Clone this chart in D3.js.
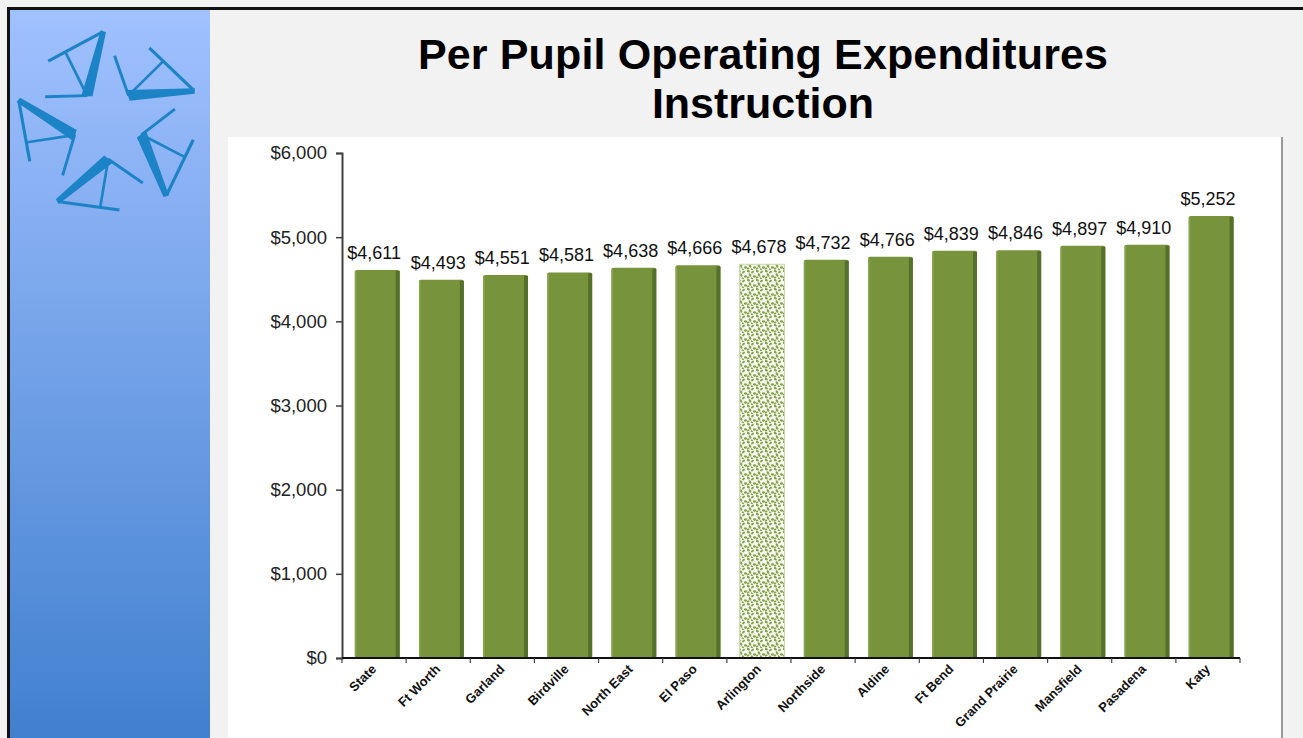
<!DOCTYPE html>
<html>
<head>
<meta charset="utf-8">
<script src="https://cdn.jsdelivr.net/npm/d3@7"></script>
<style>
html,body{margin:0;padding:0;background:#f2f2f2;}
svg{display:block;}
text{font-family:"Liberation Sans",Arial,sans-serif;}
</style>
</head>
<body>
<script>
// ---- data ----
const categories = ["State","Ft Worth","Garland","Birdville","North East","El Paso","Arlington","Northside","Aldine","Ft Bend","Grand Prairie","Mansfield","Pasadena","Katy"];
const values = [4611,4493,4551,4581,4638,4666,4678,4732,4766,4839,4846,4897,4910,5252];
const highlighted = ["Arlington"];
const yTickValues = [0,1000,2000,3000,4000,5000,6000];
const titleLines = ["Per Pupil Operating Expenditures","Instruction"];

const W = 1303, H = 738;
const svg = d3.select("body").append("svg").attr("width", W).attr("height", H);
const defs = svg.append("defs");

// sidebar gradient
const grad = defs.append("linearGradient").attr("id","side").attr("x1",0).attr("y1",0).attr("x2",0).attr("y2",1);
grad.append("stop").attr("offset","0%").attr("stop-color","#a1c1ff");
grad.append("stop").attr("offset","100%").attr("stop-color","#4180cf");

// dotted pattern for highlighted bar
const pat = defs.append("pattern").attr("id","dots").attr("patternUnits","userSpaceOnUse").attr("width",9).attr("height",9);
pat.append("rect").attr("width",9).attr("height",9).attr("fill","#f6f9f0");
[[1,1,2.0,1.2,30],[5.5,2,1.7,1.1,-40],[3,5,1.9,1.2,60],[7.5,6.5,1.6,1.2,10],[1,7.5,1.5,1.0,-20],[5,8.6,1.4,0.9,45]].forEach(d=>{
  pat.append("ellipse").attr("cx",d[0]).attr("cy",d[1]).attr("rx",d[2]).attr("ry",d[3])
    .attr("transform",`rotate(${d[4]},${d[0]},${d[1]})`).attr("fill","#86a24a");
});

// background
svg.append("rect").attr("width",W).attr("height",H).attr("fill","#f2f2f2");
svg.append("rect").attr("x",9).attr("y",9).attr("width",201).attr("height",H-9).attr("fill","url(#side)");
// black border
svg.append("rect").attr("x",7).attr("y",7).attr("width",W-7).attr("height",3).attr("fill","#111");
svg.append("rect").attr("x",7).attr("y",7).attr("width",3).attr("height",H-7).attr("fill","#111");

// logo: five stylized A's rotated around a centre
const logo = svg.append("g").attr("transform","translate(108,124) scale(1.03)");
for (let k=0;k<5;k++){
  const g = logo.append("g").attr("transform",`rotate(${k*72})`);
  const c = "#1b83c6";
  g.append("path").attr("d","M-7,-91 L-2,-89 L-15,-27 L-26,-27 Z").attr("fill",c);
  g.append("line").attr("x1",-58).attr("y1",-61).attr("x2",-6).attr("y2",-89).attr("stroke",c).attr("stroke-width",3);
  g.append("line").attr("x1",-41).attr("y1",-69).attr("x2",-22).attr("y2",-31).attr("stroke",c).attr("stroke-width",2.6);
  g.append("line").attr("x1",-61).attr("y1",-26.5).attr("x2",-20).attr("y2",-27.5).attr("stroke",c).attr("stroke-width",2.8);
}

// white chart panel
svg.append("rect").attr("x",228).attr("y",137).attr("width",1053).attr("height",H-137).attr("fill","#ffffff");
svg.append("rect").attr("x",1281).attr("y",137).attr("width",2).attr("height",H-137).attr("fill","#9a9a9a");

// title
svg.append("g").selectAll("text").data(titleLines).join("text")
  .attr("x",763).attr("y",(d,i)=>69+i*49)
  .attr("text-anchor","middle").attr("font-size",43).attr("font-weight","bold").attr("fill","#000")
  .attr("textLength",(d,i)=> i===0 ? 690 : null)
  .text(d=>d);

// scales
const x0 = 342, x1 = 1240, yBase = 658, yTop = 153;
const slot = d3.scaleBand().domain(categories).range([x0,x1]).padding(0);
const y = d3.scaleLinear().domain([0,6000]).range([yBase,yTop]);
const fmt = d3.format("$,");

// y axis
const yAxis = d3.axisLeft(y).tickValues(yTickValues).tickFormat(fmt).tickSize(6).tickPadding(9);
const gy = svg.append("g").attr("transform",`translate(${x0},0)`).call(yAxis);
gy.select(".domain").attr("stroke","#404040").attr("stroke-width",2);
gy.selectAll(".tick line").attr("stroke","#404040").attr("stroke-width",1.5);
gy.selectAll(".tick text").attr("font-size",18.5).attr("fill","#222").attr("font-family","Liberation Sans, Arial, sans-serif");

// bars
const step = slot.step();
const barX = d => slot(d) + step*0.2;
const barW = step*0.7;
const bars = svg.append("g");
categories.forEach((c,i)=>{
  const v = values[i];
  const top = y(v), h = yBase - top;
  const isHi = highlighted.includes(c);
  const g = bars.append("g");
  if (isHi){
    g.append("rect").attr("x",barX(c)).attr("y",top).attr("width",barW).attr("height",h)
      .attr("fill","url(#dots)").attr("stroke","#c8d6ad").attr("stroke-width",1);
  } else {
    g.append("rect").attr("x",barX(c)).attr("y",top).attr("width",barW).attr("height",h)
      .attr("rx",2).attr("fill","#77933c");
    g.append("rect").attr("x",barX(c)+barW-4).attr("y",top+1).attr("width",4).attr("height",h-1)
      .attr("fill","#55702a");
    g.append("rect").attr("x",barX(c)).attr("y",top+1).attr("width",1.5).attr("height",h-1)
      .attr("fill","#8aa652");
  }
});

// value labels
svg.append("g").selectAll("text").data(categories).join("text")
  .attr("x",d=>slot(d)+step/2).attr("y",(d,i)=>y(values[i])-11)
  .attr("text-anchor","middle").attr("font-size",18).attr("fill","#111")
  .text((d,i)=>fmt(values[i]));

// x axis line + ticks between categories
const gx = svg.append("g");
gx.append("line").attr("x1",x0).attr("x2",x1).attr("y1",yBase).attr("y2",yBase).attr("stroke","#111").attr("stroke-width",2);
const tickXs = categories.map(c=>slot(c)).concat([x1]);
gx.selectAll("line.t").data(tickXs).join("line").attr("class","t")
  .attr("x1",d=>d).attr("x2",d=>d).attr("y1",yBase).attr("y2",yBase+5).attr("stroke","#404040").attr("stroke-width",1.2);

// category labels
svg.append("g").selectAll("text").data(categories).join("text")
  .attr("transform",d=>`translate(${slot(d)+step/2+3},${yBase+12}) rotate(-45)`)
  .attr("text-anchor","end").attr("font-size",13).attr("font-weight","bold").attr("fill","#111")
  .text(d=>d);
</script>
</body>
</html>
